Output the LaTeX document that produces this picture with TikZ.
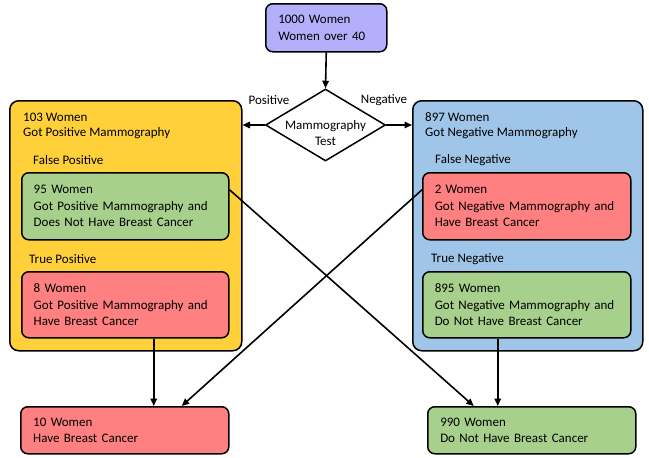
\documentclass[tikz,border=0pt]{standalone}
\usepackage{fontspec}
\setmainfont{Carlito}
\usetikzlibrary{arrows.meta,shapes.geometric}
\definecolor{cpurple}{RGB}{180,175,250}
\definecolor{cyellow}{RGB}{255,208,58}
\definecolor{cblue}{RGB}{159,197,232}
\definecolor{cgreen}{RGB}{168,208,141}
\definecolor{cred}{RGB}{255,128,128}
\tikzset{
  every node/.append style={font=\fontsize{13}{16.5}\selectfont},
  box/.style={draw=black, line width=1.5pt, rounded corners=7pt, anchor=north west,
    align=left, inner xsep=12pt, inner ysep=0pt},
  group/.style={draw=black, line width=1.5pt, rounded corners=9pt, anchor=north west, inner sep=0pt},
  lbl/.style={anchor=west, inner sep=0pt},
  arr/.style={line width=1.6pt, -{Triangle[length=7.5pt,width=6.5pt]}}
}
\begin{document}
\begin{tikzpicture}[x=1pt,y=-1pt]
\useasboundingbox[fill=white] (0,0) rectangle (649,458);

% top box
\node[box, fill=cpurple, minimum width=121pt, minimum height=48pt, text width=96pt] (top) at (265,3)
  {1000 Women\\Women over 40};

% diamond
\node[draw=black, line width=1.5pt, diamond, fill=white, minimum width=120pt, minimum height=72pt, inner sep=0pt, aspect=1.667] (dia) at (325.5,125) {};
\node[align=center, inner sep=0pt] (diat) at (325.5,133) {Mammography\\Test};

% group containers
\node[group, fill=cyellow, minimum width=232pt, minimum height=250pt] (Y) at (9,100) {};
\node[group, fill=cblue, minimum width=230pt, minimum height=250pt] (B) at (412,100) {};

% headers
\node[lbl] (yh1) at (23,117) {103 Women};
\node[lbl] (yh2) at (23,133) {Got Positive Mammography};
\node[lbl] (fp) at (33,160) {False Positive};
\node[lbl] (tp) at (29,259) {True Positive};
\node[lbl] (bh1) at (425,117) {897 Women};
\node[lbl] (bh2) at (425,133) {Got Negative Mammography};
\node[lbl] (fn) at (435,160) {False Negative};
\node[lbl] (tn) at (431,259) {True Negative};

% inner boxes
\node[box, fill=cgreen, minimum width=207pt, minimum height=67pt, text width=183pt] (g1) at (21,172)
  {95 Women\\Got Positive Mammography and\\Does Not Have Breast Cancer};
\node[box, fill=cred, minimum width=207pt, minimum height=66pt, text width=183pt] (r1) at (21,271)
  {8 Women\\Got Positive Mammography and\\Have Breast Cancer};
\node[box, fill=cred, minimum width=208pt, minimum height=67pt, text width=184pt] (r2) at (422,172)
  {2 Women\\Got Negative Mammography and\\Have Breast Cancer};
\node[box, fill=cgreen, minimum width=208pt, minimum height=66pt, text width=184pt] (g2) at (422,271)
  {895 Women\\Got Negative Mammography and\\Do Not Have Breast Cancer};

% bottom boxes
\node[box, fill=cred, minimum width=208pt, minimum height=47pt, text width=183pt] (bL) at (20,406)
  {10 Women\\Have Breast Cancer};
\node[box, fill=cgreen, minimum width=208pt, minimum height=47pt, text width=183pt] (bR) at (427,406)
  {990 Women\\Do Not Have Breast Cancer};

% labels
\node[inner sep=0pt] (pos) at (269,100) {Positive};
\node[inner sep=0pt] (neg) at (384,100) {Negative};

% connectors
\draw[arr] (top.south) -- (dia.north);
\draw[arr] (dia.west) -- (dia.west -| Y.east);
\draw[arr] (dia.east) -- (dia.east -| B.west);
\draw[arr] ([xshift=28.5pt]r1.south) -- ([xshift=29pt]bL.north);
\draw[arr] ([xshift=-29pt]g2.south) -- ([xshift=-34pt]bR.north);
\draw[arr] ([yshift=16.5pt]g1.east) -- ([xshift=-58pt]bR.north);
\draw[arr] ([yshift=16.5pt]r2.west) -- ([xshift=57pt]bL.north);
\end{tikzpicture}
\end{document}
